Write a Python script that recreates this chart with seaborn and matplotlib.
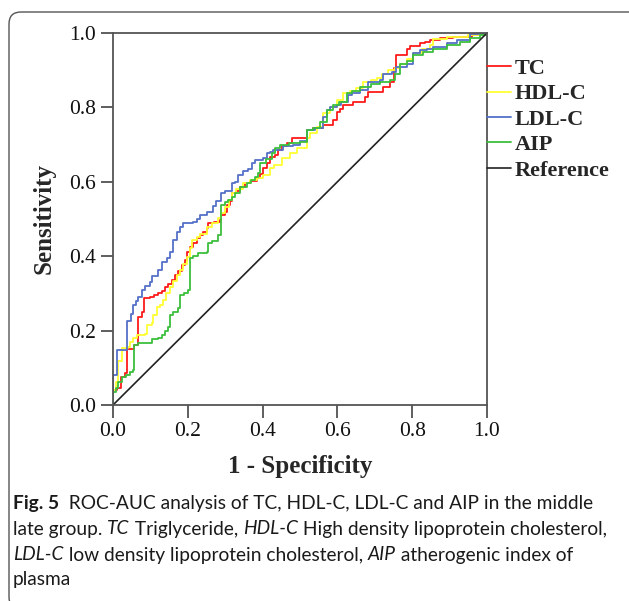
import numpy as np
import pandas as pd
import seaborn as sns
import matplotlib.pyplot as plt
from matplotlib.patches import FancyBboxPatch
from matplotlib.transforms import IdentityTransform
from matplotlib.ticker import FormatStrFormatter

W, H = 629, 601

markers = ["TC", "HDL-C", "LDL-C", "AIP"]
colors = ["#ff1a1a", "#ffff33", "#5470c8", "#3cbf3c"]

# ROC step curves (1 - specificity, sensitivity)
tc_fpr = [0.0, 0.0, 0.01, 0.021, 0.032, 0.037, 0.055, 0.066, 0.077, 0.084, 0.099, 0.11, 0.121, 0.13,
          0.139, 0.148, 0.157, 0.166, 0.175, 0.184, 0.193, 0.197, 0.206, 0.215, 0.224, 0.233, 0.241,
          0.25, 0.255, 0.27, 0.286, 0.29, 0.30, 0.306, 0.313, 0.317, 0.33, 0.34, 0.353, 0.365, 0.384,
          0.393, 0.402, 0.411, 0.42, 0.432, 0.442, 0.452, 0.465, 0.478, 0.518, 0.536, 0.562, 0.589,
          0.598, 0.607, 0.616, 0.642, 0.674, 0.683, 0.723, 0.741, 0.75, 0.758, 0.785, 0.794, 0.82,
          0.834, 0.848, 0.874, 0.91, 0.96, 1.0]
tc_tpr = [0.0, 0.04, 0.046, 0.076, 0.086, 0.15, 0.16, 0.237, 0.25, 0.288, 0.29, 0.297, 0.302, 0.306,
          0.316, 0.325, 0.335, 0.349, 0.36, 0.376, 0.39, 0.412, 0.426, 0.436, 0.448, 0.457, 0.466,
          0.475, 0.488, 0.492, 0.497, 0.51, 0.52, 0.538, 0.548, 0.569, 0.575, 0.587, 0.596, 0.602, 0.609,
          0.62, 0.636, 0.65, 0.666, 0.672, 0.685, 0.695, 0.705, 0.717, 0.739, 0.745, 0.753, 0.766,
          0.788, 0.797, 0.806, 0.815, 0.829, 0.842, 0.856, 0.869, 0.905, 0.941, 0.958, 0.965, 0.972,
          0.977, 0.981, 0.986, 0.99, 0.995, 1.0]

hdl_fpr = [0.0, 0.0, 0.008, 0.014, 0.023, 0.04, 0.045, 0.054, 0.063, 0.086, 0.09, 0.103, 0.108, 0.117,
           0.125, 0.135, 0.143, 0.152, 0.161, 0.17, 0.179, 0.188, 0.197, 0.206, 0.21, 0.224, 0.233,
           0.251, 0.265, 0.282, 0.29, 0.30, 0.31, 0.317, 0.33, 0.348, 0.366, 0.384, 0.402, 0.42, 0.43,
           0.451, 0.473, 0.491, 0.518, 0.527, 0.545, 0.562, 0.58, 0.598, 0.616, 0.635, 0.651, 0.669,
           0.69, 0.705, 0.718, 0.735, 0.754, 0.767, 0.785, 0.803, 0.825, 0.848, 0.856, 0.892, 0.95, 1.0]
hdl_tpr = [0.0, 0.04, 0.063, 0.117, 0.152, 0.155, 0.17, 0.179, 0.188, 0.19, 0.215, 0.22, 0.242, 0.264,
           0.27, 0.282, 0.30, 0.316, 0.332, 0.349, 0.363, 0.38, 0.399, 0.421, 0.444, 0.452, 0.46,
           0.479, 0.49, 0.502, 0.515, 0.533, 0.55, 0.569, 0.58, 0.596, 0.605, 0.61, 0.618, 0.636, 0.645,
           0.663, 0.677, 0.69, 0.717, 0.73, 0.748, 0.784, 0.802, 0.82, 0.838, 0.845, 0.851, 0.869,
           0.874, 0.878, 0.891, 0.90, 0.905, 0.918, 0.93, 0.945, 0.958, 0.968, 0.985, 0.99, 0.995, 1.0]

ldl_fpr = [0.0, 0.0, 0.01, 0.038, 0.047, 0.054, 0.061, 0.068, 0.077, 0.086, 0.099, 0.103, 0.121, 0.13,
           0.144, 0.152, 0.161, 0.17, 0.179, 0.188, 0.215, 0.224, 0.233, 0.251, 0.268, 0.275, 0.29,
           0.30, 0.317, 0.326, 0.335, 0.348, 0.36, 0.371, 0.38, 0.402, 0.411, 0.42, 0.429, 0.455, 0.48,
           0.50, 0.518, 0.54, 0.562, 0.571, 0.58, 0.598, 0.61, 0.629, 0.64, 0.66, 0.683, 0.714, 0.723,
           0.745, 0.758, 0.785, 0.803, 0.82, 0.84, 0.856, 0.892, 0.919, 0.955, 1.0]
ldl_tpr = [0.0, 0.08, 0.148, 0.226, 0.245, 0.27, 0.28, 0.29, 0.31, 0.32, 0.33, 0.347, 0.363, 0.385,
           0.395, 0.412, 0.444, 0.466, 0.479, 0.488, 0.493, 0.50, 0.511, 0.52, 0.535, 0.548, 0.571,
           0.575, 0.596, 0.60, 0.618, 0.63, 0.635, 0.65, 0.659, 0.663, 0.677, 0.68, 0.685, 0.696, 0.70,
           0.71, 0.739, 0.745, 0.775, 0.793, 0.80, 0.806, 0.815, 0.833, 0.84, 0.847, 0.869, 0.874, 0.891,
           0.895, 0.909, 0.918, 0.945, 0.954, 0.958, 0.963, 0.972, 0.981, 0.997, 1.0]

aip_fpr = [0.0, 0.0, 0.008, 0.014, 0.023, 0.036, 0.045, 0.054, 0.057, 0.068, 0.099, 0.103, 0.121, 0.13,
           0.139, 0.148, 0.152, 0.16, 0.175, 0.179, 0.19, 0.201, 0.206, 0.215, 0.228, 0.251, 0.255,
           0.265, 0.282, 0.29, 0.30, 0.308, 0.317, 0.326, 0.34, 0.357, 0.37, 0.38, 0.388, 0.393, 0.41,
           0.424, 0.433, 0.447, 0.47, 0.5, 0.518, 0.535, 0.553, 0.571, 0.589, 0.605, 0.625, 0.64, 0.66,
           0.69, 0.714, 0.74, 0.754, 0.767, 0.785, 0.803, 0.83, 0.856, 0.892, 0.928, 0.955, 0.98, 1.0]
aip_tpr = [0.0, 0.036, 0.045, 0.063, 0.076, 0.08, 0.09, 0.094, 0.161, 0.167, 0.167, 0.177, 0.18, 0.188,
           0.20, 0.21, 0.242, 0.25, 0.26, 0.296, 0.30, 0.309, 0.394, 0.40, 0.408, 0.412, 0.435,
           0.44, 0.457, 0.538, 0.545, 0.551, 0.56, 0.569, 0.587, 0.596, 0.605, 0.614, 0.625, 0.65, 0.66,
           0.677, 0.69, 0.699, 0.703, 0.708, 0.739, 0.745, 0.762, 0.793, 0.806, 0.815, 0.838, 0.845, 0.856,
           0.862, 0.869, 0.874, 0.891, 0.918, 0.925, 0.941, 0.95, 0.958, 0.968, 0.977, 0.986, 0.995, 1.0]

ref_x = [0.0, 1.0]
ref_y = [0.0, 1.0]

ticks = [0.0, 0.2, 0.4, 0.6, 0.8, 1.0]

caption = [
    [("Fig. 5", "bold", "normal"), ("  ROC-AUC analysis of TC, HDL-C, LDL-C and AIP in the middle", "normal", "normal")],
    [("late group. ", "normal", "normal"), ("TC", "normal", "italic"), (" Triglyceride, ", "normal", "normal"),
     ("HDL-C", "normal", "italic"), (" High density lipoprotein cholesterol,", "normal", "normal")],
    [("LDL-C", "normal", "italic"), (" low density lipoprotein cholesterol, ", "normal", "normal"),
     ("AIP", "normal", "italic"), (" atherogenic index of", "normal", "normal")],
    [("plasma", "normal", "normal")],
]

sns.set_style("white")
plt.rcParams['font.family'] = ['Liberation Serif', 'DejaVu Serif']

fig = plt.figure(figsize=(W / 100, H / 100), dpi=100)
ax = fig.add_axes([113 / W, (H - 405) / H, 374 / W, 372 / H])

frames = []
for name, fx, ty in zip(markers, [tc_fpr, hdl_fpr, ldl_fpr, aip_fpr], [tc_tpr, hdl_tpr, ldl_tpr, aip_tpr]):
    frames.append(pd.DataFrame({"fpr": fx, "tpr": ty, "marker": name}))
df = pd.concat(frames, ignore_index=True)

sns.lineplot(data=df, x="fpr", y="tpr", hue="marker", hue_order=markers, palette=colors,
             estimator=None, sort=False, drawstyle="steps-post", linewidth=1.3, legend=False, ax=ax)
sns.lineplot(x=ref_x, y=ref_y, color="#222222", linewidth=1.2, ax=ax)

ax.set_xlim(0, 1)
ax.set_ylim(0, 1)
ax.set_xticks(ticks)
ax.set_yticks(ticks)
ax.xaxis.set_major_formatter(FormatStrFormatter("%.1f"))
ax.yaxis.set_major_formatter(FormatStrFormatter("%.1f"))
ax.tick_params(axis="both", direction="out", length=9, width=1.1, color="#333333",
               labelsize=15.5, labelcolor="#111111", pad=3, left=True, bottom=True)
for s in ax.spines.values():
    s.set_color("#555555")
    s.set_linewidth(1.3)

ax.set_xlabel("1 - Specificity", fontsize=18, fontweight="bold", labelpad=10)
ax.set_ylabel("Sensitivity", fontsize=18, fontweight="bold", labelpad=10)

handles = list(ax.lines[:5])
ax.legend(handles, markers + ["Reference"], loc="upper left", bbox_to_anchor=(1.0, 0.932),
          frameon=False, prop={"family": "Liberation Serif", "weight": "bold", "size": 16},
          handlelength=1.08, handletextpad=0.18, labelspacing=0.22, borderpad=0, borderaxespad=0)

# rounded frame around the figure panel
box = FancyBboxPatch((9, -8), 650, 597, boxstyle="round,pad=0,rounding_size=12",
                     transform=IdentityTransform(), facecolor="none", edgecolor="#555555", linewidth=1.0)
fig.add_artist(box)

# caption with mixed styles
renderer = fig.canvas.get_renderer()
cap_size = 13.75


def text_width(txt, weight, style):
    a = fig.text(0, 0, "|" + txt + "|", fontsize=cap_size, family="Lato", weight=weight, style=style)
    b = fig.text(0, 0, "||", fontsize=cap_size, family="Lato", weight=weight, style=style)
    w = a.get_window_extent(renderer).width - b.get_window_extent(renderer).width
    a.remove()
    b.remove()
    return w


line_y = [503, 529, 555, 580]
for y, runs in zip(line_y, caption):
    x = 13
    for txt, weight, style in runs:
        fig.text(x / W, 1 - y / H, txt, fontsize=cap_size, family="Lato", weight=weight, style=style,
                 va="center", ha="left", color="#1a1a1a")
        x += text_width(txt, weight, style)

fig.savefig("out.png", dpi=100)
